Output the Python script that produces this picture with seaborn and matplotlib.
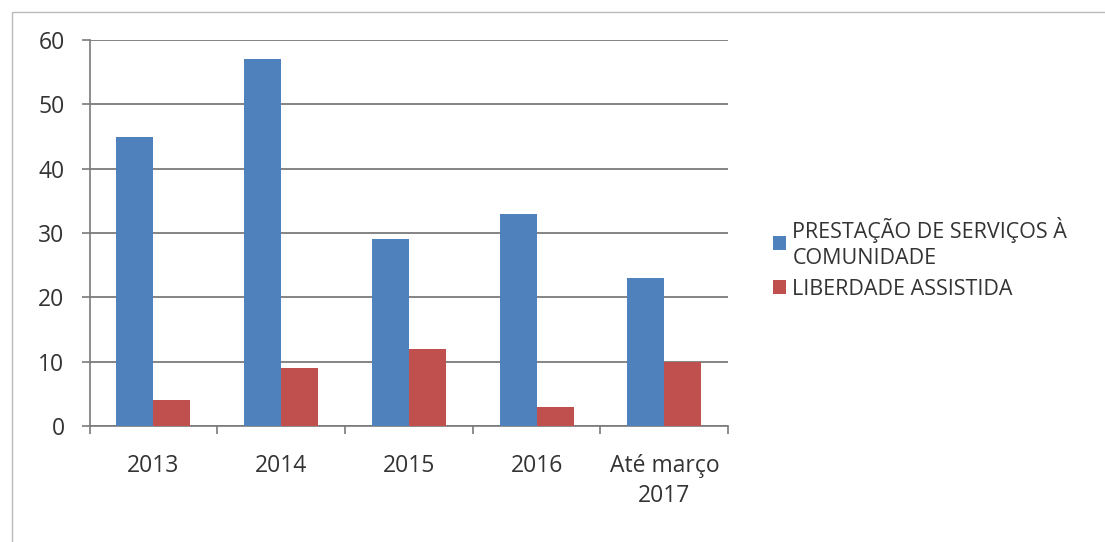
import matplotlib
matplotlib.use("Agg")
import matplotlib.pyplot as plt
import seaborn as sns
import pandas as pd

sns.set_theme(style="white")
plt.rcParams['font.family'] = ['Open Sans', 'DejaVu Sans']

# data
periods = ['2013', '2014', '2015', '2016', 'Até março\n2017']
psc = [45, 57, 29, 33, 23]          # prestação de serviços à comunidade
la = [4, 9, 12, 3, 10]              # liberdade assistida
series_names = ['PRESTAÇÃO DE SERVIÇOS À\nCOMUNIDADE', 'LIBERDADE ASSISTIDA']
colors = ['#4F81BD', '#C0504D']

df = pd.DataFrame({
    'periodo': periods * 2,
    'valor': psc + la,
    'serie': [series_names[0]] * len(periods) + [series_names[1]] * len(periods),
})

fig = plt.figure(figsize=(11.05, 5.42), dpi=100)
ax = fig.add_axes([0.081, 0.214, 0.578, 0.712])

sns.barplot(data=df, x='periodo', y='valor', hue='serie', palette=colors,
            width=0.58, gap=0, saturation=1, linewidth=0, ax=ax, zorder=3)

ax.set_ylim(0, 60)
ax.set_yticks(range(0, 61, 10))
ax.set_xlim(-0.5, len(periods) - 0.5)
ax.yaxis.grid(True, color='#707070', linewidth=1.2, zorder=0)
ax.set_axisbelow(True)
ax.set_xlabel('')
ax.set_ylabel('')

for s in ['top', 'right']:
    ax.spines[s].set_visible(False)
for s in ['left', 'bottom']:
    ax.spines[s].set_color('#7a7a7a')
    ax.spines[s].set_linewidth(1.2)

# x ticks sit between categories, labels centred under groups
ax.set_xticks(range(len(periods)))
ax.set_xticklabels(periods, linespacing=1.35)
ax.tick_params(axis='x', length=0, pad=20, labelsize=16.5, colors='#333333')
ax.set_xticks([i - 0.5 for i in range(len(periods) + 1)], minor=True)
ax.tick_params(axis='x', which='minor', length=6, color='#7a7a7a', width=1.2, direction='out', bottom=True)
ax.tick_params(axis='y', length=6, color='#7a7a7a', width=1.2, direction='out', left=True,
               labelsize=16.5, colors='#333333', pad=12)

leg = ax.legend(loc='center left', bbox_to_anchor=(1.04, 0.435), frameon=False,
                fontsize=15.5, handlelength=0.6, handleheight=0.6, handletextpad=0.3,
                labelspacing=0.45, labelcolor='#333333')
for t in leg.get_texts():
    t.set_linespacing(1.35)

# light frame of the scanned chart area
fig.patches.append(plt.Rectangle((0.011, -0.05), 1.2, 1.028, transform=fig.transFigure,
                                 fill=False, edgecolor='#bbbbbb', linewidth=1))

fig.savefig('out.png', dpi=100)
